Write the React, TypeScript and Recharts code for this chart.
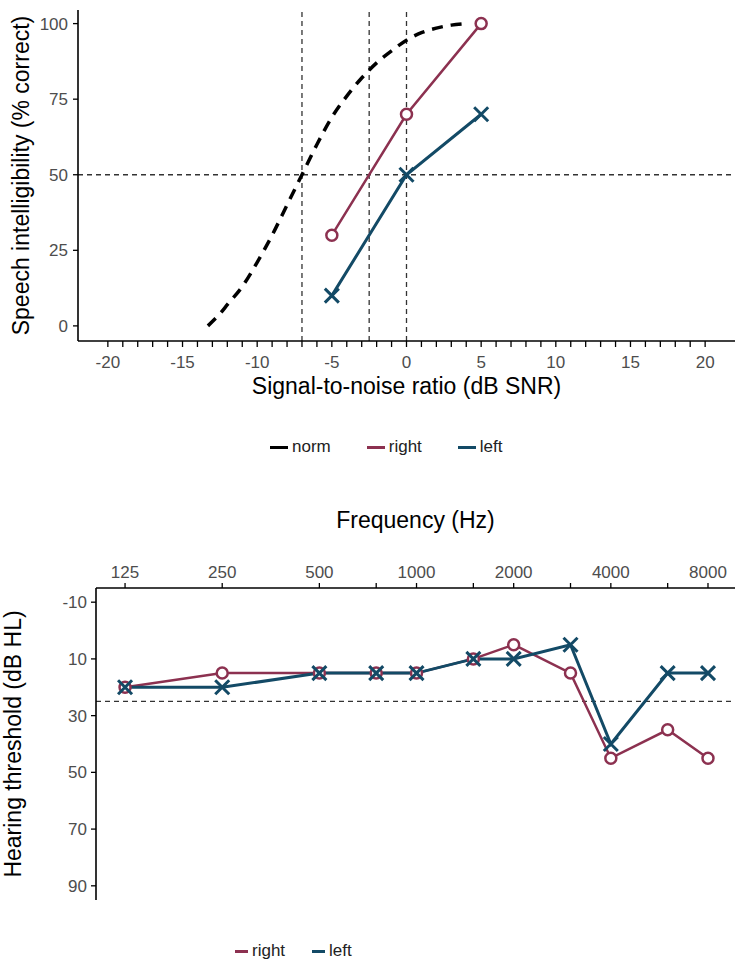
import React from 'react';
import { LineChart, Line, XAxis, YAxis, ReferenceLine, Legend, Label } from 'recharts';

// speech-in-noise panel
const normSnr = [-13.3, -12.5, -12, -11, -10, -9, -8, -7, -6, -5, -4, -3, -2, -1, 0, 1, 2, 3, 4];
const normPct = [0, 4, 7, 13, 21, 30, 40, 50, 60, 69, 76, 82, 87, 91, 94.5, 97, 98.5, 99.5, 100];
const earSnr = [-5, 0, 5];
const rightPct = [30, 70, 100];
const leftPct = [10, 50, 70];
const snrTicks = [-20, -19, -18, -17, -16, -15, -14, -13, -12, -11, -10, -9, -8, -7, -6, -5, -4, -3, -2, -1, 0,
  1, 2, 3, 4, 5, 6, 7, 8, 9, 10, 11, 12, 13, 14, 15, 16, 17, 18, 19, 20];
const snrLabels = [-20, -15, -10, -5, 0, 5, 10, 15, 20];
const snrRefs = [-7, -2.5, 0];
const pctTicks = [0, 25, 50, 75, 100];
const pctRef = 50;

// audiogram panel
const freqs = [125, 250, 500, 750, 1000, 1500, 2000, 3000, 4000, 6000, 8000];
const freqLabels = [125, 250, 500, 1000, 2000, 4000, 8000];
const rightHL = [20, 15, 15, 15, 15, 10, 5, 15, 45, 35, 45];
const leftHL = [20, 20, 15, 15, 15, 10, 10, 5, 40, 15, 15];
const hlTicks = [-10, 10, 30, 50, 70, 90];
const hlRef = 25;

const RIGHT = '#8c3150';
const LEFT = '#134a66';
const TICK = '#4d4d4d';

const topLegend = [
  { name: 'norm', color: '#000' },
  { name: 'right', color: RIGHT },
  { name: 'left', color: LEFT },
];
const bottomLegend = [
  { name: 'right', color: RIGHT },
  { name: 'left', color: LEFT },
];

const normData = normSnr.map((x, i) => ({ x, y: normPct[i] }));
const rightData = earSnr.map((x, i) => ({ x, y: rightPct[i] }));
const leftData = earSnr.map((x, i) => ({ x, y: leftPct[i] }));
const audioRight = freqs.map((f, i) => ({ f, db: rightHL[i] }));
const audioLeft = freqs.map((f, i) => ({ f, db: leftHL[i] }));

const Ring = (props: any) => {
  const { cx, cy, index } = props;
  if (cx == null || cy == null) return null;
  return <circle key={`r${index}`} cx={cx} cy={cy} r={5.5} fill="#fff" stroke={RIGHT} strokeWidth={2.5} />;
};

const Cross = (props: any) => {
  const { cx, cy, index } = props;
  if (cx == null || cy == null) return null;
  const s = 7;
  return (
    <path
      key={`x${index}`}
      d={`M${cx - s},${cy - s}L${cx + s},${cy + s}M${cx - s},${cy + s}L${cx + s},${cy - s}`}
      stroke={LEFT}
      strokeWidth={3}
      fill="none"
    />
  );
};

const HlTick = (props: any) => {
  const { x, y, payload } = props;
  return (
    <text
      x={x}
      y={y}
      dy="0.355em"
      textAnchor="end"
      fill={TICK}
      fontSize={17}
      fontFamily={payload.value >= 30 ? '"Liberation Sans Narrow", "Liberation Sans"' : '"Liberation Sans"'}
    >
      {payload.value}
    </text>
  );
};

const legendRow = (items: { name: string; color: string }[], left: number, gap: number, swatch: number, font: string) => () => (
  <div style={{ display: 'flex', alignItems: 'center', paddingLeft: left, gap }}>
    {items.map((entry) => (
      <div key={entry.name} style={{ display: 'flex', alignItems: 'center' }}>
        <span style={{ display: 'inline-block', width: swatch, height: 3, background: entry.color, marginRight: 4 }} />
        <span style={{ fontSize: 17, color: '#222', fontFamily: font, lineHeight: '22px' }}>{entry.name}</span>
      </div>
    ))}
  </div>
);

const axisLine = { stroke: '#000', strokeWidth: 1.6 };
const refStyle = { stroke: '#333', strokeWidth: 1.3, strokeDasharray: '5 4' };

export default function App() {
  return (
    <div
      style={{
        position: 'absolute',
        left: 0,
        top: 0,
        width: 735,
        height: 963,
        background: '#fff',
        fontFamily: '"Liberation Sans", Arial, sans-serif',
      }}
    >
      <div style={{ position: 'absolute', left: 0, top: 0 }}>
        <LineChart width={735} height={470} margin={{ top: 10, right: 0, left: 0, bottom: 74 }}>
          {snrRefs.map((v) => (
            <ReferenceLine key={v} x={v} {...refStyle} />
          ))}
          <ReferenceLine y={pctRef} {...refStyle} />
          <XAxis
            type="number"
            dataKey="x"
            domain={[-22, 22]}
            allowDataOverflow
            ticks={snrTicks}
            interval={0}
            tickFormatter={(v: number) => (snrLabels.includes(v) ? String(v) : '')}
            height={55}
            tickSize={6}
            tickMargin={9}
            axisLine={axisLine}
            tickLine={{ stroke: '#000', strokeWidth: 1.3 }}
            tick={{ fill: TICK, fontSize: 17 }}
          >
            <Label value="Signal-to-noise ratio (dB SNR)" position="insideBottom" offset={2} style={{ fontSize: 23, fill: '#000' }} />
          </XAxis>
          <YAxis
            type="number"
            dataKey="y"
            domain={[-5, 104.5]}
            allowDataOverflow
            ticks={pctTicks}
            width={78}
            tickSize={5}
            tickMargin={5}
            axisLine={axisLine}
            tickLine={{ stroke: '#000', strokeWidth: 1.3 }}
            tick={{ fill: TICK, fontSize: 17 }}
          >
            <Label
              value="Speech intelligibility (% correct)"
              angle={-90}
              position="insideLeft"
              offset={21}
              style={{ fontSize: 23, fill: '#000', textAnchor: 'middle' }}
            />
          </YAxis>
          <Legend
            verticalAlign="middle"
            align="center"
            layout="horizontal"
            wrapperStyle={{ top: 436, left: 0, width: 735 }}
            content={legendRow(topLegend, 270, 36, 18, '"Liberation Sans"')}
          />
          <Line
            data={normData}
            dataKey="y"
            name="norm"
            type="monotone"
            stroke="#000"
            strokeWidth={3.5}
            strokeDasharray="11 8"
            dot={false}
            isAnimationActive={false}
          />
          <Line
            data={rightData}
            dataKey="y"
            name="right"
            type="linear"
            stroke={RIGHT}
            strokeWidth={2.5}
            dot={Ring}
            isAnimationActive={false}
          />
          <Line
            data={leftData}
            dataKey="y"
            name="left"
            type="linear"
            stroke={LEFT}
            strokeWidth={3}
            dot={Cross}
            isAnimationActive={false}
          />
        </LineChart>
      </div>

      <div style={{ position: 'absolute', left: 0, top: 480 }}>
        <LineChart width={735} height={483} margin={{ top: 0, right: 0, left: 0, bottom: 63 }}>
          <ReferenceLine y={hlRef} {...refStyle} />
          <XAxis
            type="number"
            dataKey="f"
            scale="log"
            domain={[101.6, 9700]}
            allowDataOverflow
            orientation="top"
            ticks={freqs}
            interval={0}
            tickFormatter={(v: number) => (freqLabels.includes(v) ? String(v) : '')}
            height={108}
            tickSize={5}
            tickMargin={5}
            axisLine={axisLine}
            tickLine={{ stroke: '#000', strokeWidth: 1.3 }}
            tick={{ fill: TICK, fontSize: 17 }}
          >
            <Label value="Frequency (Hz)" position="insideTop" offset={32} style={{ fontSize: 23, fill: '#000' }} />
          </XAxis>
          <YAxis
            type="number"
            dataKey="db"
            domain={[-15, 95]}
            allowDataOverflow
            reversed
            ticks={hlTicks}
            width={96}
            tickSize={5}
            tickMargin={4}
            axisLine={axisLine}
            tickLine={{ stroke: '#000', strokeWidth: 1.3 }}
            tick={HlTick}
          >
            <Label
              value="Hearing threshold (dB HL)"
              angle={-90}
              position="insideLeft"
              offset={13}
              style={{ fontSize: 23, fill: '#000', textAnchor: 'middle' }}
            />
          </YAxis>
          <Legend
            verticalAlign="middle"
            align="center"
            layout="horizontal"
            wrapperStyle={{ top: 460, left: 0, width: 735 }}
            content={legendRow(bottomLegend, 235, 27, 13, '"Liberation Sans Narrow", "Liberation Sans"')}
          />
          <Line
            data={audioRight}
            dataKey="db"
            name="right"
            type="linear"
            stroke={RIGHT}
            strokeWidth={2.5}
            dot={Ring}
            isAnimationActive={false}
          />
          <Line
            data={audioLeft}
            dataKey="db"
            name="left"
            type="linear"
            stroke={LEFT}
            strokeWidth={3}
            dot={Cross}
            isAnimationActive={false}
          />
        </LineChart>
      </div>
    </div>
  );
}
